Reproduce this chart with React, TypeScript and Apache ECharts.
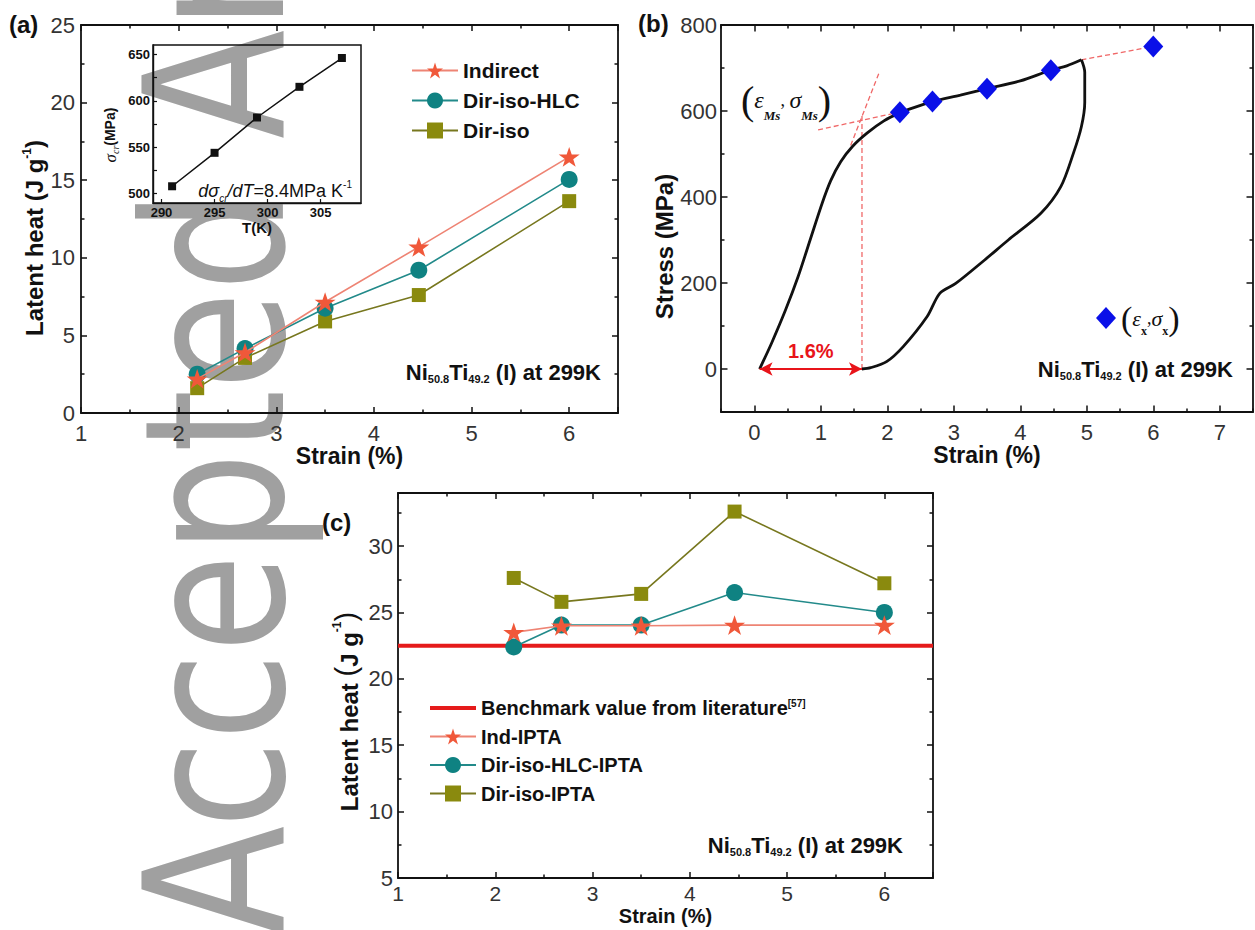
import React, { useEffect, useRef } from 'react';
import * as echarts from 'echarts';

const SANS = '"Liberation Sans", Arial, Helvetica, sans-serif';
const SERIF = '"Liberation Serif", "DejaVu Serif", "Times New Roman", serif';
const INK = '#111111';

// ---------- shared strain values (panels a and c) ----------
const strainPoints = [2.19, 2.68, 3.5, 4.46, 6.0];

// ---------- panel (a): latent heat (J/g) ----------
const indirectLatent = [2.2, 3.9, 7.15, 10.7, 16.5];
const dirIsoHlcLatent = [2.5, 4.15, 6.75, 9.2, 15.05];
const dirIsoLatent = [1.6, 3.55, 5.9, 7.6, 13.65];

// ---------- panel (a) inset: critical stress vs temperature ----------
const insetTemperature = [291, 295, 299, 303, 307];
const insetCriticalStress = [508, 544, 582, 615, 646];
const insetTempLabels = [290, 295, 300, 305];
const insetStressTicks = [500, 525, 550, 575, 600, 625, 650];
const insetStressLabels = [500, 550, 600, 650];

// ---------- panel (b): stress-strain loop ----------
const loadingStrain = [0.08, 0.26, 0.47, 0.66, 0.84, 1.02, 1.15, 1.3, 1.48, 1.7, 1.95, 2.18, 2.4, 2.68, 3.1, 3.5, 4.0, 4.46, 4.7, 4.92];
const loadingStress = [0, 60, 137, 215, 300, 385, 438, 482, 518, 549, 577, 595, 608, 622, 637, 652, 670, 695, 705, 719];
const unloadingStrain = [4.92, 4.97, 4.97, 4.92, 4.8, 4.61, 4.31, 3.82, 3.46, 3.03, 2.79, 2.6, 2.24, 1.99, 1.75, 1.62];
const unloadingStress = [719, 690, 620, 564, 502, 424, 362, 300, 253, 199, 176, 122, 52, 17, 3, 0];
const markerStrain = [2.19, 2.68, 3.5, 4.46, 6.0];
const markerStress = [597, 622, 652, 695, 750];
const elasticTangentStrain = [1.45, 1.88];
const elasticTangentStress = [520, 690];
const plateauTangentStrain = [0.96, 2.2];
const plateauTangentStress = [556, 598];
const msGuideStrain = [1.62, 1.62];
const msGuideStress = [0, 590];
const extrapolationStrain = [4.92, 6.0];
const extrapolationStress = [719, 750];
const residualArrowStrain = [0.08, 1.62];
const residualArrowStress = [0, 0];
const bStrainLabels = [0, 1, 2, 3, 4, 5, 6, 7];
const bStressLabels = [0, 200, 400, 600, 800];

// ---------- panel (c): latent heat with IPTA ----------
const indIptaLatent = [23.5, 24.0, 24.0, 24.05, 24.05];
const dirIsoHlcIptaLatent = [22.4, 24.05, 24.05, 26.5, 25.0];
const dirIsoIptaLatent = [27.6, 25.8, 26.4, 32.6, 27.2];
const benchmarkStrain = [1, 6.5];
const benchmarkLatent = [22.5, 22.5];

const BENCH = 'Benchmark value from literature';
const XMARK = '(εx,σx)';

const STAR = 'path://M50,0L61.8,35.1L98.9,35.1L68.9,56.8L80.3,91.9L50,70.2L19.7,91.9L31.1,56.8L1.1,35.1L38.2,35.1Z';

const RED_M = '#f0583a';
const RED_L = '#ee8474';
const TEAL_M = '#0f8282';
const TEAL_L = '#228a8a';
const OLIVE_M = '#8a8a0e';
const OLIVE_L = '#77771e';

const pairs = (xs: number[], ys: number[]) => xs.map((x, i) => [x, ys[i]]);

const axisLine = { show: true, onZero: false, lineStyle: { color: INK, width: 1.8 } };
const tickLine = { color: INK, width: 1.5 };
const tickLabel = { fontFamily: SANS, fontSize: 22, color: '#333' };
const titleStyle = { fontFamily: SANS, fontSize: 23, fontWeight: 'bold', color: INK };

const latentRich = {
  t: { fontFamily: SANS, fontSize: 24, fontWeight: 'bold', color: INK, lineHeight: 26, verticalAlign: 'bottom' },
  u: { fontFamily: SANS, fontSize: 12, fontWeight: 'bold', color: INK, lineHeight: 12, verticalAlign: 'top' },
  p: { fontFamily: SANS, fontSize: 29, fontWeight: 'normal', color: INK, lineHeight: 30 },
};

function mirrorX(grid: number, min: number, max: number, interval: number, bottom: boolean, extra: any = {}) {
  return {
    type: 'value', gridIndex: grid, position: bottom ? 'bottom' : 'top', min, max, interval,
    axisLine,
    axisTick: { show: true, inside: true, length: 6, lineStyle: tickLine },
    minorTick: { show: true, splitNumber: 2, length: 3.5, lineStyle: tickLine },
    axisLabel: bottom ? { ...tickLabel, margin: 9, showMaxLabel: false } : { show: false },
    splitLine: { show: false },
    ...extra,
  };
}
function mirrorY(grid: number, min: number, max: number, interval: number, left: boolean, extra: any = {}) {
  return {
    type: 'value', gridIndex: grid, position: left ? 'left' : 'right', min, max, interval,
    axisLine,
    axisTick: { show: true, inside: true, length: 6, lineStyle: tickLine },
    minorTick: { show: true, splitNumber: 2, length: 3.5, lineStyle: tickLine },
    axisLabel: left ? { ...tickLabel, margin: 6, showMaxLabel: false } : { show: false },
    splitLine: { show: false },
    ...extra,
  };
}

function makeLine(name: string, xi: number, yi: number, xs: number[], ys: number[], symbol: string, size: number, marker: string, line: string, z: number) {
  return {
    type: 'line', name, xAxisIndex: xi, yAxisIndex: yi, data: pairs(xs, ys),
    symbol, symbolSize: size, symbolKeepAspect: true, showSymbol: true, showAllSymbol: true,
    itemStyle: { color: marker, opacity: 1 },
    lineStyle: { color: line, width: 1.6 },
    emphasis: { disabled: true }, z,
  };
}
function makeGuide(name: string, xs: number[], ys: number[], extra: any = {}) {
  return {
    type: 'line', name, xAxisIndex: 3, yAxisIndex: 3, data: pairs(xs, ys),
    symbol: 'none', showSymbol: false,
    lineStyle: { color: '#f06868', width: 1.3, type: [5, 3] },
    emphasis: { disabled: true }, z: 2, silent: true,
    ...extra,
  };
}

const niRich = {
  m: { fontFamily: SANS, fontSize: 22, fontWeight: 'bold', fill: INK, lineHeight: 24, verticalAlign: 'middle' },
  s: { fontFamily: SANS, fontSize: 11, fontWeight: 'bold', fill: INK, lineHeight: 9, verticalAlign: 'bottom' },
};
const niText = '{m|Ni}{s|50.8}{m|Ti}{s|49.2}{m| (I) at 299K}';

function niLabel(x: number, y: number) {
  return {
    type: 'text', x, y, z: 100, silent: true,
    style: { text: niText, rich: niRich, align: 'right', verticalAlign: 'middle', fill: INK },
  };
}

function buildOption() {
  return {
    animation: false,
    backgroundColor: '#ffffff',
    grid: [
      { left: 81, top: 25, width: 537, height: 388, containLabel: false, outerBoundsMode: 'none' },
      { left: 153, top: 45, width: 208, height: 158, show: true, borderColor: INK, borderWidth: 1.5, backgroundColor: 'rgba(0,0,0,0)', containLabel: false, outerBoundsMode: 'none' },
      { left: 721, top: 25, width: 532, height: 387, containLabel: false, outerBoundsMode: 'none' },
      { left: 398, top: 493, width: 535, height: 385, containLabel: false, outerBoundsMode: 'none' },
    ],
    xAxis: [
      mirrorX(0, 1, 6.5, 1, true, { name: 'Strain (%)', nameLocation: 'middle', nameGap: 31, nameTextStyle: titleStyle }),
      mirrorX(0, 1, 6.5, 1, false),
      {
        type: 'value', gridIndex: 1, position: 'bottom', min: 289.2, max: 308.8,
        axisLine: { show: true, onZero: false, lineStyle: { color: INK, width: 1.4 } },
        axisTick: { show: true, inside: true, length: 4, customValues: insetTempLabels, lineStyle: { color: INK, width: 1.2 } },
        axisLabel: { customValues: insetTempLabels, fontFamily: SANS, fontSize: 13, fontWeight: 'bold', color: INK, margin: 3 },
        splitLine: { show: false },
        name: 'T(K)', nameLocation: 'middle', nameGap: 17,
        nameTextStyle: { fontFamily: SANS, fontSize: 15, fontWeight: 'bold', color: INK },
      },
      mirrorX(2, -0.5, 7.5, 1, true, {
        axisTick: { show: true, inside: true, length: 3.5, lineStyle: tickLine },
        minorTick: { show: true, splitNumber: 2, length: 6.5, lineStyle: tickLine },
        axisLabel: { ...tickLabel, margin: 9, customValues: bStrainLabels },
        name: 'Strain (%)', nameLocation: 'middle', nameGap: 31, nameTextStyle: titleStyle,
      }),
      mirrorX(2, -0.5, 7.5, 1, false, {
        axisTick: { show: true, inside: true, length: 3.5, lineStyle: tickLine },
        minorTick: { show: true, splitNumber: 2, length: 6.5, lineStyle: tickLine },
      }),
      mirrorX(3, 1, 6.5, 1, true, {
        axisLabel: { ...tickLabel, fontSize: 21, margin: 5, showMaxLabel: false },
        name: 'Strain (%)', nameLocation: 'middle', nameGap: 28, nameMoveOverlap: false,
        nameTextStyle: { ...titleStyle, fontSize: 20 },
      }),
      mirrorX(3, 1, 6.5, 1, false),
    ],
    yAxis: [
      mirrorY(0, 0, 25, 5, true, {
        axisLabel: { ...tickLabel, margin: 6 },
        name: '{t|Latent heat (J g}{u|-1}{t|)}', nameLocation: 'middle', nameRotate: 90, nameGap: 33,
        nameTextStyle: { ...titleStyle, rich: latentRich, padding: [0, 38, 0, 0] },
      }),
      mirrorY(0, 0, 25, 5, false),
      {
        type: 'value', gridIndex: 1, position: 'left', min: 490, max: 660,
        axisLine: { show: true, onZero: false, lineStyle: { color: INK, width: 1.4 } },
        axisTick: { show: true, inside: true, length: 4, customValues: insetStressTicks, lineStyle: { color: INK, width: 1.2 } },
        axisLabel: { customValues: insetStressLabels, fontFamily: SANS, fontSize: 13, fontWeight: 'bold', color: INK, margin: 3 },
        splitLine: { show: false },
        name: '{g|σ}{s|cr}{t|(MPa)}', nameLocation: 'middle', nameRotate: 90, nameGap: 33,
        nameTextStyle: {
          fontFamily: SANS, fontSize: 14, color: INK, padding: [0, 22, 0, 0],
          rich: {
            g: { fontFamily: SERIF, fontStyle: 'italic', fontSize: 17, color: INK, lineHeight: 20 },
            s: { fontFamily: SERIF, fontStyle: 'italic', fontSize: 10, color: INK, lineHeight: 9, verticalAlign: 'bottom' },
            t: { fontFamily: SANS, fontSize: 14, fontWeight: 'bold', color: INK, lineHeight: 20 },
          },
        },
      },
      mirrorY(2, -100, 800, 200, true, {
        axisTick: { show: true, inside: true, length: 3.5, lineStyle: tickLine },
        minorTick: { show: true, splitNumber: 2, length: 6.5, lineStyle: tickLine },
        axisLabel: { ...tickLabel, margin: 4, customValues: bStressLabels },
        name: 'Stress (MPa)', nameLocation: 'middle', nameRotate: 90, nameGap: 45,
        nameTextStyle: { ...titleStyle, fontSize: 24, padding: [0, 56, 0, 0] },
      }),
      mirrorY(2, -100, 800, 200, false, {
        axisTick: { show: true, inside: true, length: 3.5, lineStyle: tickLine },
        minorTick: { show: true, splitNumber: 2, length: 6.5, lineStyle: tickLine },
      }),
      mirrorY(3, 5, 34, 5, true, {
        axisLabel: { ...tickLabel, margin: 5, showMaxLabel: false },
        name: '{t|Latent heat }{p|(}{t|J g}{u|-1}{p|)}', nameLocation: 'middle', nameRotate: 90, nameGap: 37,
        nameTextStyle: { ...titleStyle, rich: latentRich, padding: [0, 52, 0, 0] },
      }),
      mirrorY(3, 5, 34, 5, false),
    ],
    legend: [
      {
        data: ['Indirect', 'Dir-iso-HLC', 'Dir-iso'],
        orient: 'vertical', left: 411, top: 60, padding: 0, itemWidth: 46, itemHeight: 20, itemGap: 9,
        selectedMode: false,
        textStyle: { fontFamily: SANS, fontSize: 21, fontWeight: 'bold', color: INK, lineHeight: 20 },
      },
      {
        data: [{ name: BENCH, icon: 'path://M0,0H46V4H0Z' }, 'Ind-IPTA', 'Dir-iso-HLC-IPTA', 'Dir-iso-IPTA'],
        orient: 'vertical', left: 429, top: 698, padding: 0, itemWidth: 46, itemHeight: 20, itemGap: 8.5,
        selectedMode: false,
        formatter: (name: string) => (name === BENCH ? `{t|${name}}{u|[57]}` : `{t|${name}}`),
        textStyle: {
          fontFamily: SANS, fontSize: 20, fontWeight: 'bold', color: INK, lineHeight: 20,
          rich: {
            t: { fontFamily: SANS, fontSize: 20, fontWeight: 'bold', color: INK, lineHeight: 20 },
            u: { fontFamily: SANS, fontSize: 10, fontWeight: 'bold', color: INK, lineHeight: 10, verticalAlign: 'top' },
          },
        },
      },
      {
        data: [XMARK],
        left: 1096, top: 301, padding: 0, itemWidth: 20, itemHeight: 22,
        selectedMode: false,
        formatter: () => '{p|(}{g|ε}{s|x}{c|,}{g|σ}{s|x}{p|)}',
        textStyle: {
          color: INK,
          rich: {
            p: { fontFamily: SERIF, fontSize: 34, color: INK, lineHeight: 38 },
            g: { fontFamily: SERIF, fontStyle: 'italic', fontSize: 22, color: INK, lineHeight: 38 },
            c: { fontFamily: SERIF, fontSize: 18, color: INK, lineHeight: 38 },
            s: { fontFamily: SERIF, fontWeight: 'bold', fontSize: 12, color: INK, lineHeight: 32, verticalAlign: 'bottom' },
          },
        },
      },
    ],
    series: [
      // (a) main
      makeLine('Dir-iso', 0, 0, strainPoints, dirIsoLatent, 'rect', 14, OLIVE_M, OLIVE_L, 3),
      makeLine('Dir-iso-HLC', 0, 0, strainPoints, dirIsoHlcLatent, 'circle', 17, TEAL_M, TEAL_L, 4),
      makeLine('Indirect', 0, 0, strainPoints, indirectLatent, STAR, 21, RED_M, RED_L, 5),
      // (a) inset
      {
        type: 'line', name: 'inset', xAxisIndex: 2, yAxisIndex: 2, data: pairs(insetTemperature, insetCriticalStress),
        symbol: 'rect', symbolSize: 8, showSymbol: true, itemStyle: { color: INK }, lineStyle: { color: INK, width: 1.5 },
        emphasis: { disabled: true }, z: 4,
      },
      // (b)
      makeGuide('elasticTangent', elasticTangentStrain, elasticTangentStress),
      makeGuide('plateauTangent', plateauTangentStrain, plateauTangentStress),
      makeGuide('extrapolation', extrapolationStrain, extrapolationStress),
      makeGuide('msGuide', msGuideStrain, msGuideStress, {
        markLine: {
          silent: true, animation: false,
          symbol: ['arrow', 'arrow'], symbolSize: [10, 13],
          lineStyle: { color: '#e8141a', width: 2.2, type: 'solid' },
          label: { show: true, position: 'middle', formatter: '1.6%', color: '#e8141a', fontWeight: 'bold', fontSize: 20, fontFamily: SANS, distance: 8 },
          data: [[{ coord: [residualArrowStrain[0], residualArrowStress[0]] }, { coord: [residualArrowStrain[1], residualArrowStress[1]] }]],
        },
      }),
      {
        type: 'line', name: 'loading', xAxisIndex: 3, yAxisIndex: 3, data: pairs(loadingStrain, loadingStress),
        symbol: 'none', showSymbol: false, smooth: 0.3, lineStyle: { color: INK, width: 2.8 },
        emphasis: { disabled: true }, z: 3,
      },
      {
        type: 'line', name: 'unloading', xAxisIndex: 3, yAxisIndex: 3, data: pairs(unloadingStrain, unloadingStress),
        symbol: 'none', showSymbol: false, smooth: 0.3, lineStyle: { color: INK, width: 2.8 },
        emphasis: { disabled: true }, z: 3,
      },
      {
        type: 'scatter', name: XMARK, xAxisIndex: 3, yAxisIndex: 3, data: pairs(markerStrain, markerStress),
        symbol: 'diamond', symbolSize: [20, 22], itemStyle: { color: '#0a10e8', opacity: 1 },
        emphasis: { disabled: true }, z: 6,
      },
      // (c)
      {
        type: 'line', name: BENCH, xAxisIndex: 5, yAxisIndex: 5, data: pairs(benchmarkStrain, benchmarkLatent),
        symbol: 'none', showSymbol: false, itemStyle: { color: '#e51b1b' }, lineStyle: { color: '#e51b1b', width: 4 },
        emphasis: { disabled: true }, z: 2,
      },
      makeLine('Dir-iso-IPTA', 5, 5, strainPoints, dirIsoIptaLatent, 'rect', 14, OLIVE_M, OLIVE_L, 3),
      makeLine('Dir-iso-HLC-IPTA', 5, 5, strainPoints, dirIsoHlcIptaLatent, 'circle', 17, TEAL_M, TEAL_L, 4),
      makeLine('Ind-IPTA', 5, 5, strainPoints, indIptaLatent, STAR, 21, RED_M, RED_L, 5),
    ],
    graphic: [
      {
        type: 'text', x: 215, y: 935, rotation: Math.PI / 2, scaleY: 1.22, z: -10, silent: true,
        style: { text: 'Accepted Article', fontFamily: '"DejaVu Sans", sans-serif', fontSize: 160, fill: '#a0a0a0', align: 'left', verticalAlign: 'middle' },
      },
      { type: 'text', x: 9, y: 24, z: 100, silent: true, style: { text: '(a)', fontFamily: SANS, fontSize: 24, fontWeight: 'bold', fill: INK, align: 'left', verticalAlign: 'middle' } },
      { type: 'text', x: 638, y: 23, z: 100, silent: true, style: { text: '(b)', fontFamily: SANS, fontSize: 24, fontWeight: 'bold', fill: INK, align: 'left', verticalAlign: 'middle' } },
      { type: 'text', x: 322, y: 522, z: 100, silent: true, style: { text: '(c)', fontFamily: SANS, fontSize: 24, fontWeight: 'bold', fill: INK, align: 'left', verticalAlign: 'middle' } },
      niLabel(601, 372),
      niLabel(1233, 369),
      niLabel(903, 845),
      {
        type: 'text', x: 352, y: 191, z: 100, silent: true,
        style: {
          text: '{i|dσ}{s|cr}{i|/dT}{n|=8.4MPa K}{u|-1}', align: 'right', verticalAlign: 'middle', fill: INK,
          rich: {
            i: { fontFamily: SANS, fontStyle: 'italic', fontSize: 18, fill: INK, lineHeight: 24 },
            n: { fontFamily: SANS, fontSize: 18, fill: INK, lineHeight: 24 },
            s: { fontFamily: SANS, fontStyle: 'italic', fontSize: 10, fill: INK, lineHeight: 9, verticalAlign: 'bottom' },
            u: { fontFamily: SANS, fontSize: 10, fill: INK, lineHeight: 9, verticalAlign: 'top' },
          },
        },
      },
      {
        type: 'text', x: 741, y: 100, z: 100, silent: true,
        style: {
          text: '{p|(}{g|ε}{s|Ms}{c|, }{g|σ}{s|Ms}{p|)}', align: 'left', verticalAlign: 'middle', fill: INK,
          rich: {
            p: { fontFamily: SERIF, fontSize: 40, fill: INK, lineHeight: 44 },
            g: { fontFamily: SERIF, fontStyle: 'italic', fontSize: 24, fill: INK, lineHeight: 44 },
            c: { fontFamily: SERIF, fontSize: 18, fill: INK, lineHeight: 44 },
            s: { fontFamily: SERIF, fontStyle: 'italic', fontWeight: 'bold', fontSize: 13, fill: INK, lineHeight: 38, verticalAlign: 'bottom' },
          },
        },
      },
    ],
  };
}

export default function App() {
  const ref = useRef<HTMLDivElement>(null);
  useEffect(() => {
    if (!ref.current) return;
    const chart = echarts.init(ref.current, null, { renderer: 'svg' });
    chart.setOption(buildOption() as any);
    return () => chart.dispose();
  }, []);
  return (
    <div
      ref={ref}
      style={{ position: 'absolute', left: 0, top: 0, width: 1255, height: 930, background: '#fff' }}
    />
  );
}
